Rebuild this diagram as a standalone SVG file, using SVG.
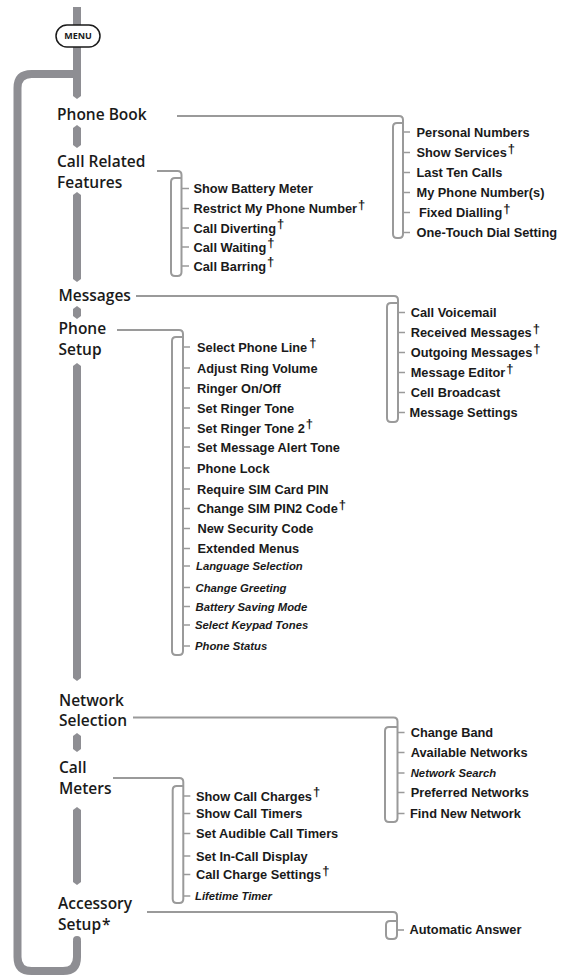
<svg xmlns="http://www.w3.org/2000/svg" width="562" height="980" viewBox="0 0 562 980">
<style>
.spine{fill:#8e8e93;stroke:none}
.loop{fill:none;stroke:#8e8e93;stroke-width:8}
.con{fill:none;stroke:#9a9a9a;stroke-width:2;stroke-linejoin:round}
.tick{fill:none;stroke:#9a9a9a;stroke-width:1.6}
.main{font-family:"Open Sans","Noto Sans",sans-serif;font-weight:600;font-size:15.5px;fill:#1a1a1a}
.sub{font-family:"Liberation Sans",Arial,sans-serif;font-weight:700;font-size:12.8px;fill:#1a1a1a}
.it{font-family:"Liberation Sans",Arial,sans-serif;font-weight:700;font-style:italic;font-size:11.3px;fill:#1a1a1a}
.dg{font-size:13px;font-weight:700}
.menu{font-family:"Open Sans","Noto Sans",sans-serif;font-weight:700;font-size:9px;fill:#1a1a1a}
</style>
<rect width="562" height="980" fill="#ffffff"/>
<g id="spine">
<path class="loop" d="M 77 74 H 31.5 Q 17.5 74 17.5 88 V 957 Q 17.5 971 31.5 971 H 63 Q 77 971 77 957 V 941"/>
<circle class="spine" cx="77" cy="940" r="4"/>
<polygon class="spine" points="73,7 81,7 81,96 77,99 73,96"/>
<polygon class="spine" points="73,128 77,125 81,128 81,145 77,148 73,145"/>
<polygon class="spine" points="73,195 77,192 81,195 81,279 77,282 73,279"/>
<polygon class="spine" points="73,309 77,306 81,309 81,316 77,319 73,316"/>
<polygon class="spine" points="73,366 77,363 81,366 81,678 77,681 73,678"/>
<polygon class="spine" points="73,736 77,733 81,736 81,749 77,752 73,749"/>
<polygon class="spine" points="73,810 77,807 81,810 81,882 77,885 73,882"/>
</g>
<g id="menu">
<rect x="56" y="25" width="44" height="22" rx="11" fill="#ffffff" stroke="#1a1a1a" stroke-width="1.5"/>
<text class="menu" x="78" y="39.3" text-anchor="middle">MENU</text>
</g>
<g id="connectors">
<path class="con" d="M 177 116 H 399 Q 403 116 403 120 V 234 Q 403 238 399 238 H 397 Q 393 238 393 234 V 127 Q 393 123 397 123 H 403"/>
<path class="con" d="M 157 171 H 177.5 Q 181.5 171 181.5 175 V 272 Q 181.5 276 177.5 276 H 175 Q 171 276 171 272 V 182 Q 171 178 175 178 H 181.5"/>
<path class="con" d="M 136 296 H 394 Q 398 296 398 300 V 418 Q 398 422 394 422 H 391 Q 387 422 387 418 V 307 Q 387 303 391 303 H 398"/>
<path class="con" d="M 117 330 H 179 Q 183 330 183 334 V 651 Q 183 655 179 655 H 176 Q 172 655 172 651 V 341 Q 172 337 176 337 H 183"/>
<path class="con" d="M 133 717.5 H 393.5 Q 397.5 717.5 397.5 721.5 V 818 Q 397.5 822 393.5 822 H 389 Q 385 822 385 818 V 731 Q 385 727 389 727 H 397.5"/>
<path class="con" d="M 113 778 H 179.3 Q 183.3 778 183.3 782 V 899 Q 183.3 903 179.3 903 H 176.7 Q 172.7 903 172.7 899 V 790 Q 172.7 786 176.7 786 H 183.3"/>
<path class="con" d="M 147 912 H 393 Q 397 912 397 916 V 935 Q 397 939 393 939 H 390 Q 386 939 386 935 V 925 Q 386 921 390 921 H 397"/>
<path class="tick" d="M403 132H410M403 152.5H410M403 172.5H410M403 192.5H410M403 212.5H410M403 232.5H410"/>
<path class="tick" d="M181.5 188.5H189M181.5 208.5H189M181.5 228H189M181.5 247H189M181.5 266H189"/>
<path class="tick" d="M398 312.5H405M398 332.5H405M398 352.5H405M398 372.5H405M398 392.5H405M398 412.5H405"/>
<path class="tick" d="M183 347H190M183 368H190M183 388H190M183 408H190M183 428H190M183 447H190M183 468H190M183 489H190M183 508.5H190M183 528.5H190M183 548.5H190M183 566H190M183 587.5H190M183 606.5H190M183 625H190M183 646H190"/>
<path class="tick" d="M397.5 732.5H404.5M397.5 752.5H404.5M397.5 773H404.5M397.5 792.5H404.5M397.5 813.5H404.5"/>
<path class="tick" d="M183.3 796H190.3M183.3 813.5H190.3M183.3 833.5H190.3M183.3 856H190.3M183.3 874.5H190.3M183.3 896H190.3"/>
<path class="tick" d="M397 930H404"/>
</g>
<g id="phone-book">
<text class="main" x="57" y="120">Phone Book</text>
<text class="sub" x="416.5" y="136.5">Personal Numbers</text>
<text class="sub" x="416.5" y="157">Show Services<tspan class="dg" dx="1" dy="-4.5">†</tspan></text>
<text class="sub" x="416.5" y="177">Last Ten Calls</text>
<text class="sub" x="416.5" y="197">My Phone Number(s)</text>
<text class="sub" x="419" y="217">Fixed Dialling<tspan class="dg" dx="1" dy="-4.5">†</tspan></text>
<text class="sub" x="416.5" y="237">One-Touch Dial Setting</text>
</g>
<g id="call-related">
<text class="main" x="57" y="166.5">Call Related</text>
<text class="main" x="57" y="188.3">Features</text>
<text class="sub" x="193.5" y="193.3">Show Battery Meter</text>
<text class="sub" x="193.5" y="213.3">Restrict My Phone Number<tspan class="dg" dx="1" dy="-4.5">†</tspan></text>
<text class="sub" x="193.5" y="232.7">Call Diverting<tspan class="dg" dx="1" dy="-4.5">†</tspan></text>
<text class="sub" x="193.5" y="251.7">Call Waiting<tspan class="dg" dx="1" dy="-4.5">†</tspan></text>
<text class="sub" x="193.5" y="270.7">Call Barring<tspan class="dg" dx="1" dy="-4.5">†</tspan></text>
</g>
<g id="messages">
<text class="main" x="58.5" y="300.7">Messages</text>
<text class="sub" x="410.7" y="317">Call Voicemail</text>
<text class="sub" x="410.7" y="337">Received Messages<tspan class="dg" dx="1" dy="-4.5">†</tspan></text>
<text class="sub" x="410.7" y="357">Outgoing Messages<tspan class="dg" dx="1" dy="-4.5">†</tspan></text>
<text class="sub" x="410.7" y="377">Message Editor<tspan class="dg" dx="1" dy="-4.5">†</tspan></text>
<text class="sub" x="410.7" y="397">Cell Broadcast</text>
<text class="sub" x="409.5" y="417">Message Settings</text>
</g>
<g id="phone-setup">
<text class="main" x="58.5" y="334.3">Phone</text>
<text class="main" x="58.5" y="355.3">Setup</text>
<text class="sub" x="197" y="351.7">Select Phone Line<tspan class="dg" dx="2" dy="-4.5">†</tspan></text>
<text class="sub" x="197" y="372.7">Adjust Ring Volume</text>
<text class="sub" x="197" y="392.7">Ringer On/Off</text>
<text class="sub" x="197" y="412.7">Set Ringer Tone</text>
<text class="sub" x="197" y="432.7">Set Ringer Tone 2<tspan class="dg" dx="1" dy="-4.5">†</tspan></text>
<text class="sub" x="197" y="451.7">Set Message Alert Tone</text>
<text class="sub" x="197" y="472.7">Phone Lock</text>
<text class="sub" x="197" y="494">Require SIM Card PIN</text>
<text class="sub" x="197" y="513.3">Change SIM PIN2 Code<tspan class="dg" dx="1" dy="-4.5">†</tspan></text>
<text class="sub" x="197.5" y="533.3">New Security Code</text>
<text class="sub" x="197.5" y="553.3">Extended Menus</text>
<text class="it" x="196" y="570">Language Selection</text>
<text class="it" x="195.5" y="591.7">Change Greeting</text>
<text class="it" x="195.5" y="610.7">Battery Saving Mode</text>
<text class="it" x="195" y="629.3">Select Keypad Tones</text>
<text class="it" x="195" y="650">Phone Status</text>
</g>
<g id="network-selection">
<text class="main" x="59" y="706">Network</text>
<text class="main" x="59" y="726">Selection</text>
<text class="sub" x="410.7" y="737.3">Change Band</text>
<text class="sub" x="410.7" y="757.3">Available Networks</text>
<text class="it" x="410.7" y="777.3">Network Search</text>
<text class="sub" x="410.7" y="797.3">Preferred Networks</text>
<text class="sub" x="410" y="818.3">Find New Network</text>
</g>
<g id="call-meters">
<text class="main" x="59" y="773.3">Call</text>
<text class="main" x="59" y="794">Meters</text>
<text class="sub" x="196" y="800.7">Show Call Charges<tspan class="dg" dx="1" dy="-4.5">†</tspan></text>
<text class="sub" x="196" y="818.3">Show Call Timers</text>
<text class="sub" x="196" y="838.3">Set Audible Call Timers</text>
<text class="sub" x="196" y="860.7">Set In-Call Display</text>
<text class="sub" x="196" y="879.3">Call Charge Settings<tspan class="dg" dx="1" dy="-4.5">†</tspan></text>
<text class="it" x="195" y="900">Lifetime Timer</text>
</g>
<g id="accessory-setup">
<text class="main" x="58" y="908.5">Accessory</text>
<text class="main" x="58" y="930">Setup<tspan dx="1">*</tspan></text>
<text class="sub" x="409.5" y="933.5">Automatic Answer</text>
</g>
</svg>
